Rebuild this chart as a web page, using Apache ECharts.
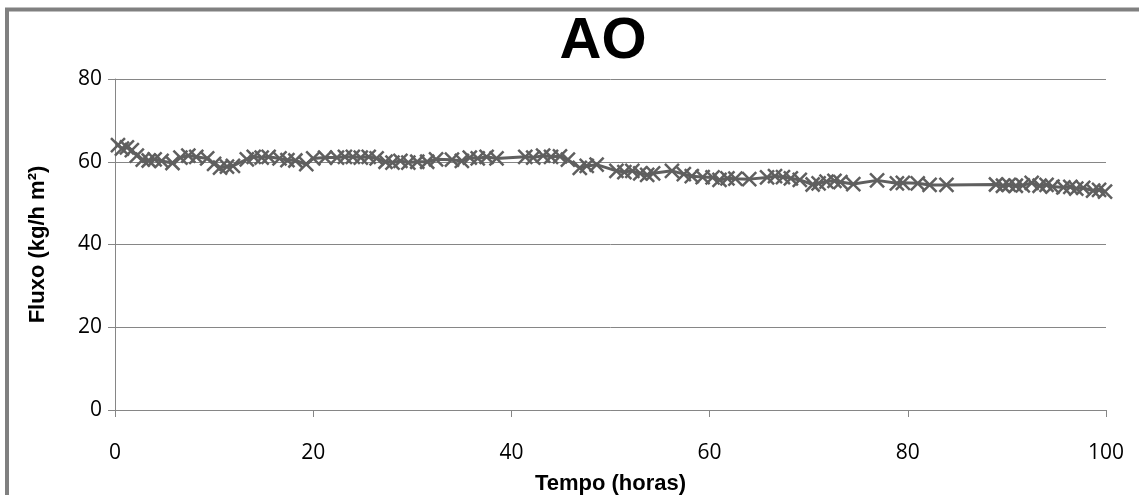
<!DOCTYPE html>
<html><head><meta charset="utf-8">
<script src="https://cdn.jsdelivr.net/npm/echarts@6/dist/echarts.min.js"></script>
<style>html,body{margin:0;padding:0;background:#fff}#c{width:1139px;height:495px}</style>
</head><body><div id="c"></div>
<script>
const hours = [0.3,0.7,1.2,1.7,2.2,2.8,3.4,4.0,4.7,5.8,6.6,7.4,8.2,9.3,10.0,10.6,11.3,11.9,13.3,14.0,14.8,15.5,16.6,17.4,18.2,19.3,20.0,21.2,22.4,23.2,24.0,24.8,25.6,26.4,27.3,28.0,28.8,29.6,30.5,31.5,32.4,34.0,35.0,35.8,36.6,37.5,38.5,41.4,42.2,43.2,44.0,44.9,45.7,46.9,47.6,48.6,50.6,51.4,52.2,53.0,53.7,54.3,56.2,57.4,58.2,59.3,60.3,61.0,61.8,62.6,64.0,65.8,66.6,67.4,68.2,69.1,70.4,71.0,71.8,72.6,73.2,74.5,76.9,78.9,79.5,81.0,82.2,83.9,88.9,89.6,90.2,90.9,91.6,92.5,93.3,94.0,94.6,95.7,96.4,97.0,97.7,98.7,99.3,99.9];
const fluxo = [64.0,63.2,63.5,62.8,61.5,60.5,60.3,60.6,60.2,59.7,61.0,61.5,61.2,60.8,59.5,58.6,58.8,59.0,60.6,61.2,61.0,61.2,60.8,60.4,60.3,59.4,60.8,61.0,61.0,61.2,61.2,61.0,61.2,60.8,60.0,59.8,60.2,59.8,60.0,60.0,60.6,60.5,60.2,61.0,60.8,61.2,60.8,61.2,61.0,61.5,61.2,61.3,60.5,58.5,59.0,59.3,57.8,57.5,57.8,57.2,56.8,57.2,57.8,57.0,56.5,56.3,56.2,55.6,56.0,55.9,55.8,56.2,56.5,56.3,56.0,55.6,54.5,54.8,55.2,55.4,55.1,54.6,55.5,54.8,54.9,54.8,54.4,54.4,54.5,54.2,54.4,54.2,54.3,54.9,54.2,54.4,54.0,53.8,53.9,53.5,53.7,53.0,53.2,52.8];
const xTicks = [0,20,40,60,80,100];
const yTicks = [0,20,40,60,80];
const titleText = 'AO';
const xName = 'Tempo (horas)';
const yName = 'Fluxo (kg/h m²)';

const chart = echarts.init(document.getElementById('c'), null, {renderer:'canvas'});
const axisGray = '#868686';
const lblFont = "'Open Sans', sans-serif";
const boldFont = "'Liberation Sans', Arial, sans-serif";
chart.setOption({
  animation:false,
  backgroundColor:'#ffffff',
  graphic:[
    {type:'rect', shape:{x:7,y:9.5,width:1300,height:700}, style:{fill:'none',stroke:'#808080',lineWidth:4}, silent:true},
    {type:'text', x:603, y:42, style:{text:titleText, font:"bold 58px 'Liberation Sans', Arial, sans-serif", fill:'#000', textAlign:'center', textVerticalAlign:'middle'}, silent:true}
  ],
  grid:{left:115,right:33,top:79,bottom:85,containLabel:false,outerBoundsMode:'none'},
  xAxis:{type:'value',min:0,max:100,interval:20,
    name:xName,nameLocation:'middle',nameGap:63,
    nameTextStyle:{fontFamily:boldFont,fontWeight:'bold',fontSize:22,color:'#000'},
    axisLine:{lineStyle:{color:axisGray,width:1}},
    axisTick:{show:true,inside:false,length:7,lineStyle:{color:axisGray}},
    axisLabel:{margin:33,fontFamily:lblFont,fontSize:21,color:'#000',formatter:v=>xTicks.includes(v)?String(v):''},
    splitLine:{show:false}},
  yAxis:{type:'value',min:0,max:80,interval:20,
    name:yName,nameLocation:'middle',nameGap:66,nameRotate:90,
    nameTextStyle:{fontFamily:boldFont,fontWeight:'bold',fontSize:22,color:'#000'},
    axisLine:{show:true,lineStyle:{color:axisGray,width:1}},
    axisTick:{show:true,inside:false,length:7,lineStyle:{color:axisGray}},
    axisLabel:{margin:13,fontFamily:lblFont,fontSize:21,color:'#000',formatter:v=>yTicks.includes(v)?String(v):''},
    splitLine:{show:true,lineStyle:{color:axisGray,width:1}}},
  series:[{type:'line',data:hours.map((h,i)=>[h,fluxo[i]]),
    symbol:'path://M0,0L10,10M10,0L0,10',symbolSize:14,
    itemStyle:{color:'none',borderColor:'#5f5f5f',borderWidth:2.5},
    lineStyle:{color:'#5f5f5f',width:3},
    showAllSymbol:true}]
});
</script></body></html>
